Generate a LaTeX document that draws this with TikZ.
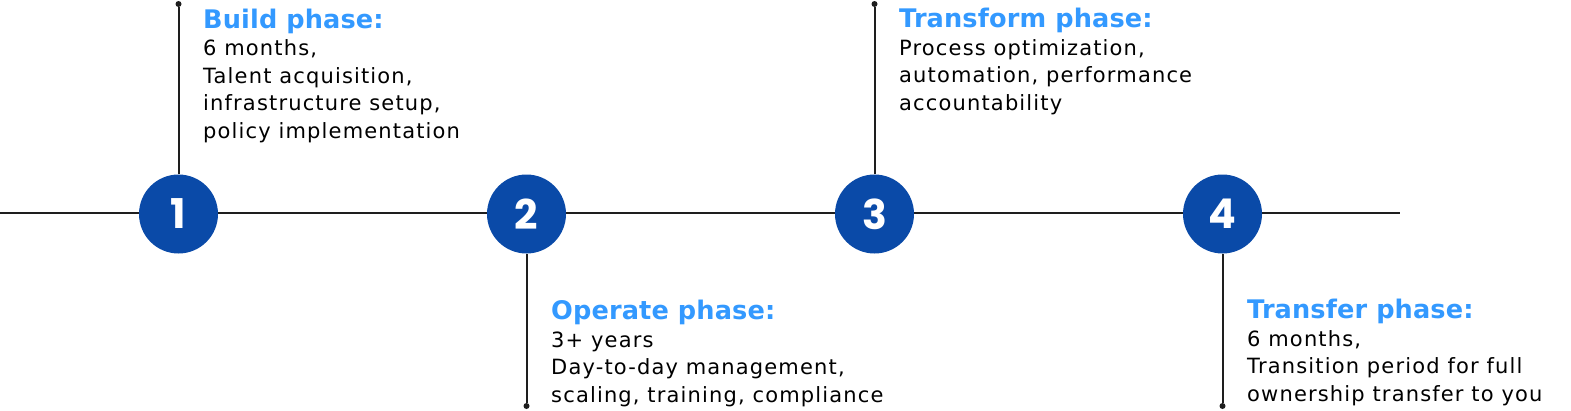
\documentclass[tikz,border=0pt]{standalone}
\usepackage{fontspec}
\setmainfont{DejaVu Sans}[LetterSpace=5.5]
\newfontfamily\headfont{DejaVu Sans}[LetterSpace=0.5]
\newfontfamily\numfont{Poppins}
\definecolor{phaseblue}{HTML}{0A4AA8}
\definecolor{headblue}{HTML}{3399FF}
\definecolor{linegray}{HTML}{1E1E1E}
\newcommand\phasehead[1]{{\headfont\bfseries\fontsize{25.6}{27.5}\selectfont\color{headblue}#1}}
\begin{document}
\begin{tikzpicture}[
    x=1pt, y=-1pt,
    timeline/.style={line width=2pt, linegray},
    phase/.style={circle, fill=phaseblue, minimum size=79pt, inner sep=0pt, text=white, font=\numfont\bfseries\fontsize{41}{41}\selectfont},
    stem/.style={line width=2pt, linegray},
    tip/.style={circle, fill=linegray, minimum size=6pt, inner sep=0pt},
    info/.style={anchor=base west, align=left, inner sep=0pt, font=\fontsize{21}{27.5}\selectfont}
  ]
    \useasboundingbox (0,0) rectangle (1571,410);

    % Timeline
    \coordinate (start) at (0,213);
    \coordinate (end) at (1400,213);
    \draw[timeline] (start) -- (end);
    \foreach \n/\x in {1/178.5,2/526.5,3/874.5,4/1222.5}
      \node[phase] (p\n) at (\x,214) {\n};

    % Stems
    \foreach \n/\y in {1/4,3/4,2/406,4/406} {
      \node[tip] (t\n) at (p\n |- 0,\y) {};
      \draw[stem] (p\n) -- (t\n);
    }

    % Phases (anchored at the baseline of the last line)
    \node[info] (build) at (203,138) {\phasehead{Build phase:}\\6 months,\\Talent acquisition,\\infrastructure setup,\\policy implementation};
    \node[info] (operate) at (551,402) {\phasehead{Operate phase:}\\3+ years\\Day-to-day management,\\scaling, training, compliance};
    \node[info] (transform) at (899,110) {\phasehead{Transform phase:}\\Process optimization,\\automation, performance\\accountability};
    \node[info] (transfer) at (1247,401) {\phasehead{Transfer phase:}\\6 months,\\Transition period for full\\ownership transfer to you};
  \end{tikzpicture}
\end{document}
